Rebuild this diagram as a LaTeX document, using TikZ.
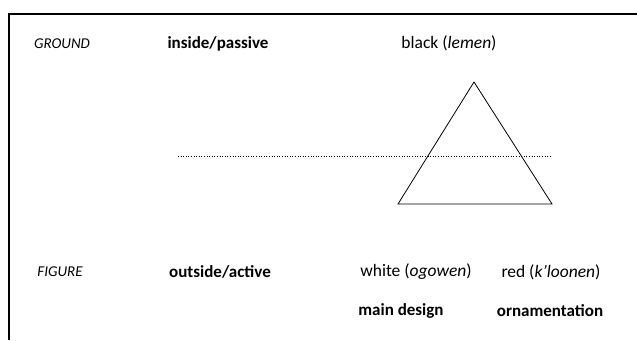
\documentclass[tikz,border=0pt]{standalone}
\usepackage{fontspec}
\setmainfont{Carlito}
\begin{document}
\begin{tikzpicture}[x=1pt,y=-1pt,
  lbl/.style={inner sep=0pt, font=\fontsize{17.5}{20}\selectfont},
  head/.style={inner sep=0pt, font=\fontsize{15}{18}\selectfont\itshape},
  strong/.style={inner sep=0pt, font=\fontsize{17}{20}\selectfont\bfseries}]
\useasboundingbox (0,0) rectangle (637,340);
\draw[line width=1.8pt] (8,14) -- (637,14);
\draw[line width=1.5pt] (9,13) -- (9,340);
\node[head] (ground) at (62,44) {GROUND};
\node[strong] (inside) at (218,44) {inside/passive};
\node[lbl] (black) at (449,43) {black (\textit{lemen})};
\coordinate (apex) at (474,82);
\coordinate (bl) at (398,204);
\coordinate (br) at (552,204);
\draw[line width=0.8pt] (apex) -- (bl) -- (br) -- cycle;
\coordinate (dl) at (178,156);
\coordinate (dr) at (552,156);
\draw[dotted, line width=0.6pt] (dl) -- (dr);
\node[head] (figure) at (60,272) {FIGURE};
\node[strong] (outside) at (220,272) {outside/active};
\node[lbl] (white) at (416,272) {white (\textit{ogowen})};
\node[lbl] (red) at (551,272) {red (\textit{k'loonen})};
\node[strong] (main) at (401,311) {main design};
\node[strong] (orn) at (550,311) {ornamentation};
\end{tikzpicture}
\end{document}
